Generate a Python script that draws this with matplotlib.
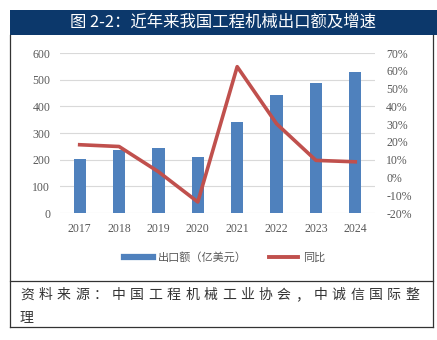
import matplotlib.pyplot as plt
from matplotlib.patches import Rectangle
from matplotlib.lines import Line2D
from matplotlib.ticker import FuncFormatter

years = ['2017', '2018', '2019', '2020', '2021', '2022', '2023', '2024']
exports = [201, 236, 243, 209, 341, 443, 486, 528]
growth = [18.4, 17.4, 3.2, -13.8, 62.3, 30.2, 9.6, 8.8]

title = '图 2-2：近年来我国工程机械出口额及增速'
source_lines = ['资料来源：中国工程机械工业协会，中诚信国际整', '理']

cjk = ['Noto Sans CJK SC', 'DejaVu Sans']
serif = ['Liberation Serif', 'DejaVu Serif']
bar_color = '#4F81BD'
line_color = '#C0504D'
tick_color = '#595959'

fig = plt.figure(figsize=(4.37, 3.40), dpi=100)
W, H = 437.0, 340.0

def fx(px):
    return px / W

def fy(py):
    return 1 - py / H

# title bar and frame
fig.patches.append(Rectangle((fx(10), fy(35)), fx(427), 25 / H, transform=fig.transFigure,
                             facecolor='#0C386B', edgecolor='none', zorder=0))
fig.text(fx(223), fy(22.5), title, color='white', fontsize=11.8, fontweight='medium',
         ha='center', va='center', family=cjk)
for xs, ys in [([10, 10], [35, 327]), ([433, 433], [35, 327]),
               ([10, 433], [281, 281]), ([10, 433], [327, 327])]:
    fig.lines.append(Line2D([fx(v) for v in xs], [fy(v) for v in ys], transform=fig.transFigure,
                            color='#333333', lw=0.9))

# chart
ax = fig.add_axes([fx(60), fy(213), fx(315), 160 / H])
x = range(len(years))
ax.bar(x, exports, width=0.31, color=bar_color, zorder=2)
ax.set_ylim(0, 600)
ax.set_yticks(range(0, 601, 100))
ax.set_xlim(-0.5, len(years) - 0.5)
ax.set_xticks(list(x))
ax.set_xticklabels(years)
ax.grid(axis='y', color='#D9D9D9', lw=0.8, zorder=0)
for s in ax.spines.values():
    s.set_visible(False)
ax.tick_params(length=0, colors=tick_color, labelsize=8.5, pad=7)
for lab in ax.get_xticklabels() + ax.get_yticklabels():
    lab.set_family(serif)

ax2 = ax.twinx()
ax2.plot(list(x), growth, color=line_color, lw=2.6, zorder=3)
ax2.set_ylim(-20, 70)
ax2.set_yticks(range(-20, 71, 10))
ax2.yaxis.set_major_formatter(FuncFormatter(lambda v, p: f'{int(v)}%'))
for s in ax2.spines.values():
    s.set_visible(False)
ax2.tick_params(length=0, colors=tick_color, labelsize=8.5, pad=8)
for lab in ax2.get_yticklabels():
    lab.set_family(serif)

handles = [Line2D([], [], color=bar_color, lw=4.5), Line2D([], [], color=line_color, lw=2.8)]
leg = fig.legend(handles, ['出口额（亿美元）', '同比'], loc='center', bbox_to_anchor=(fx(225), fy(257)),
                 ncol=2, frameon=False, handlelength=2.6, handletextpad=0.45, columnspacing=2.0,
                 prop={'family': cjk, 'size': 8})
for t in leg.get_texts():
    t.set_color(tick_color)

# source note, spaced characters
for i, line in enumerate(source_lines):
    for j, ch in enumerate(line):
        fig.text(fx(20 + j * 18.35), fy(295 + i * 22), ch, fontsize=10, ha='left', va='center',
                 color='#333333', family=cjk, fontweight='light')

fig.savefig('out.png', dpi=100)
